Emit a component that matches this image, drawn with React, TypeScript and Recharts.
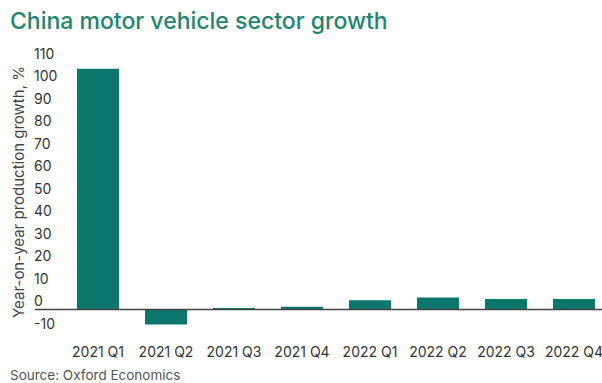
import { BarChart, Bar, XAxis, YAxis, ReferenceLine } from 'recharts';

const quarters = ['2021 Q1', '2021 Q2', '2021 Q3', '2021 Q4', '2022 Q1', '2022 Q2', '2022 Q3', '2022 Q4'];
const growth = [107, -6.7, 0.7, 1.2, 4.1, 5.3, 4.7, 4.7];
const yTicks = [-10, 0, 10, 20, 30, 40, 50, 60, 70, 80, 90, 100, 110];

const data = quarters.map((q, i) => ({ q, growth: growth[i] }));

const FONT = 'Inter, "Noto Sans", sans-serif';

const YTick = (props: any) => (
  <text x={34} y={props.y - 8} dy="0.35em" textAnchor="start" fontSize={14} fill="#333" fontFamily={FONT}>
    {props.payload.value}
  </text>
);

const XTick = (props: any) => (
  <text x={props.x} y={352} dy="0.35em" textAnchor="middle" fontSize={14} fill="#333" fontFamily={FONT}>
    {props.payload.value}
  </text>
);

export default function App() {
  return (
    <div style={{ position: 'absolute', left: 0, top: 0, width: 602, height: 383, overflow: 'hidden', background: '#fff', fontFamily: FONT }}>
      <div style={{ position: 'absolute', left: 10, top: 7, fontSize: 23, fontWeight: 500, color: '#1e8571', whiteSpace: 'nowrap' }}>
        China motor vehicle sector growth
      </div>
      <div
        style={{
          position: 'absolute', left: 18, top: 192, fontSize: 15, color: '#444', whiteSpace: 'nowrap',
          transform: 'translate(-50%, -50%) rotate(-90deg)',
        }}
      >
        Year-on-year production growth, %
      </div>
      <div style={{ position: 'absolute', left: 0, top: 0 }}>
        <BarChart width={610} height={383} data={data} margin={{ top: 62, bottom: 21, left: 0, right: 2 }}>
          <XAxis dataKey="q" height={30} axisLine={false} tickLine={false} padding={{ left: 29, right: 0 }} tick={<XTick />} interval={0} />
          <YAxis
            type="number"
            width={35}
            domain={[-10, 110]}
            allowDataOverflow
            ticks={yTicks}
            axisLine={false}
            tickLine={false}
            tick={<YTick />}
            interval={0}
          />
          <Bar dataKey="growth" fill="#0b776c" barSize={42} isAnimationActive={false} />
          <ReferenceLine y={0} stroke="#444" strokeWidth={1.5} />
        </BarChart>
      </div>
      <div style={{ position: 'absolute', left: 10, top: 369, fontSize: 13.5, lineHeight: '13px', color: '#555', whiteSpace: 'nowrap' }}>
        Source: Oxford Economics
      </div>
    </div>
  );
}
